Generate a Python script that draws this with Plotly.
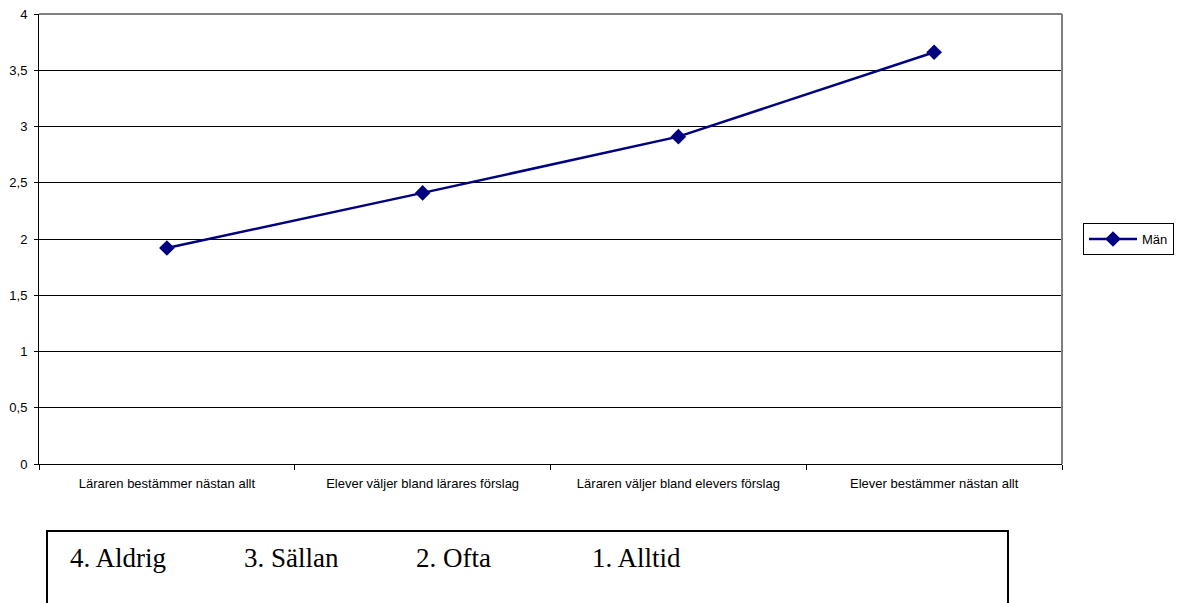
import plotly.graph_objects as go

categories = ["Läraren bestämmer nästan allt", "Elever väljer bland lärares förslag",
              "Läraren väljer bland elevers förslag", "Elever bestämmer nästan allt"]
man_values = [1.92, 2.41, 2.91, 3.66]
y_ticks = [0, 0.5, 1, 1.5, 2, 2.5, 3, 3.5, 4]
y_tick_labels = ["0", "0,5", "1", "1,5", "2", "2,5", "3", "3,5", "4"]
scale_labels = ["4. Aldrig", "3. Sällan", "2. Ofta", "1. Alltid"]

OFF = 8  # default body margin of the html page
W, H = 1183 - OFF, 603 - OFF
L, R, T, B = 39 - OFF, 1062 - OFF, 14 - OFF, 464 - OFF
pw, ph = R - L, B - T

def fx(px):
    return (px - OFF - L) / pw

def fy(py):
    return (B - (py - OFF)) / ph

fig = go.Figure()
fig.add_trace(go.Scatter(
    x=categories, y=man_values, name="Män", mode="lines+markers",
    line=dict(color="#000080", width=2.5),
    marker=dict(symbol="diamond", size=12, color="#000080"),
))

fig.update_layout(
    width=W, height=H,
    margin=dict(l=L, r=W - R, t=T, b=H - B, pad=0, autoexpand=False),
    paper_bgcolor="white", plot_bgcolor="white",
    separators=",.",
    font=dict(family="Liberation Sans, Arial", size=13, color="black"),
    showlegend=True,
    legend=dict(x=fx(1083), y=fy(239), xanchor="left", yanchor="middle",
                bordercolor="black", borderwidth=1, bgcolor="white",
                font=dict(size=13), itemwidth=48, tracegroupgap=0),
    xaxis=dict(range=[-0.5, 3.5], showgrid=False, zeroline=False, automargin=False,
               showline=True, linecolor="black", linewidth=1,
               ticks="outside", tickson="boundaries", ticklen=5, tickcolor="black",
               ticklabelstandoff=7, tickfont=dict(size=13)),
    yaxis=dict(range=[0, 4], tickvals=y_ticks, ticktext=y_tick_labels, automargin=False,
               showgrid=True, gridcolor="black", gridwidth=1, zeroline=False,
               showline=True, linecolor="black", linewidth=1,
               ticks="outside", ticklen=4, tickcolor="black",
               ticklabeloverflow="allow",
               ticklabelstandoff=4, tickfont=dict(size=13)),
)

# gray plot-area frame (top and right)
fig.add_shape(type="line", xref="paper", yref="paper", x0=0, x1=1, y0=1, y1=1,
              line=dict(color="#808080", width=2), layer="above")
fig.add_shape(type="line", xref="paper", yref="paper", x0=1, x1=1, y0=0, y1=1,
              line=dict(color="#808080", width=2), layer="above")

# bottom text box
fig.add_shape(type="rect", xref="paper", yref="paper",
              x0=fx(47), x1=fx(1008), y0=fy(640), y1=fy(531),
              line=dict(color="black", width=2), fillcolor="rgba(0,0,0,0)")
for lab, px in zip(scale_labels, [68, 242, 414, 590]):
    fig.add_annotation(text=lab, xref="paper", yref="paper", x=fx(px), y=fy(558),
                       xanchor="left", yanchor="middle", showarrow=False,
                       font=dict(family="Liberation Serif, Times New Roman", size=27, color="black"))

fig.write_html("out.html")
